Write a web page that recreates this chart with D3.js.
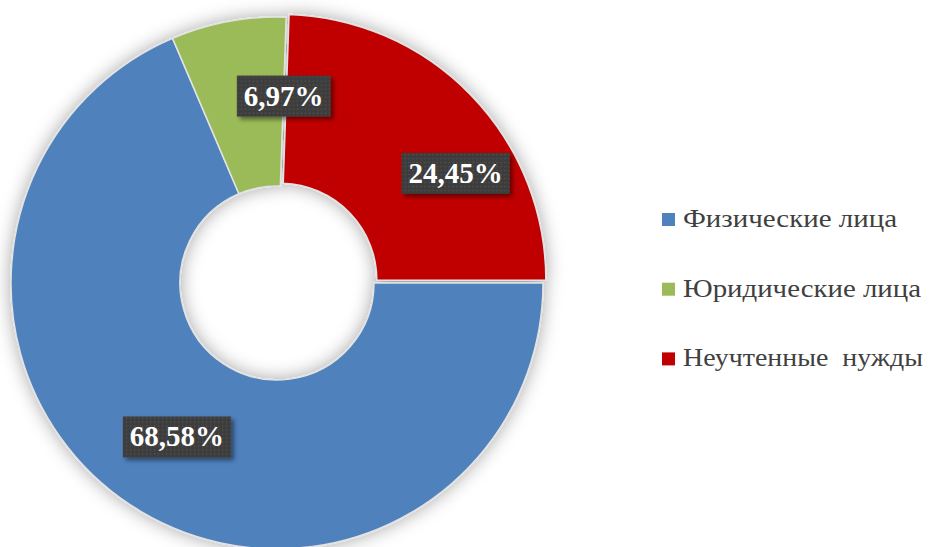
<!DOCTYPE html>
<html>
<head>
<meta charset="utf-8">
<script src="https://cdn.jsdelivr.net/npm/d3@7"></script>
<style>
  body { margin: 0; background: #fff; }
  #chart-area { width: 932px; height: 547px; }
</style>
</head>
<body>
<div id="chart-area"></div>
<script>
var categories = ["Физические лица", "Юридические лица", "Неучтенные  нужды"];
var values = [68.58, 6.97, 24.45];
var labels = ["68,58%", "6,97%", "24,45%"];
var colors = ["#4F81BD", "#9BBB59", "#C00000"];

var width = 932, height = 547;
var cx = 277, cy = 283;
var outerR = 266, innerR = 97;

// per-slice label nudges and explode (layout, not data)
var nudge = [[0, 2], [40, -9], [48, 16]];
var explode = [0, 0, 4];
// legend text is drawn a bit wide in the original
var legendWidths = [214, 238, 240];

var svg = d3.select("#chart-area").append("svg")
    .attr("width", width)
    .attr("height", height)
    .attr("viewBox", "0 0 " + width + " " + height);

var defs = svg.append("defs");

var shadow = defs.append("filter")
    .attr("id", "donut-shadow")
    .attr("x", "-20%").attr("y", "-20%")
    .attr("width", "140%").attr("height", "140%");
shadow.append("feGaussianBlur").attr("in", "SourceAlpha").attr("stdDeviation", 9).attr("result", "blur");
shadow.append("feFlood").attr("flood-color", "#000").attr("flood-opacity", 0.35).attr("result", "col");
shadow.append("feComposite").attr("in", "col").attr("in2", "blur").attr("operator", "in").attr("result", "sh");
var m1 = shadow.append("feMerge");
m1.append("feMergeNode").attr("in", "sh");
m1.append("feMergeNode").attr("in", "SourceGraphic");

var boxShadow = defs.append("filter")
    .attr("id", "box-shadow")
    .attr("x", "-20%").attr("y", "-30%")
    .attr("width", "150%").attr("height", "180%");
boxShadow.append("feGaussianBlur").attr("in", "SourceAlpha").attr("stdDeviation", 2).attr("result", "blur");
boxShadow.append("feOffset").attr("in", "blur").attr("dx", 3).attr("dy", 3).attr("result", "off");
boxShadow.append("feFlood").attr("flood-color", "#000").attr("flood-opacity", 0.45).attr("result", "col");
boxShadow.append("feComposite").attr("in", "col").attr("in2", "off").attr("operator", "in").attr("result", "sh");
var m2 = boxShadow.append("feMerge");
m2.append("feMergeNode").attr("in", "sh");
m2.append("feMergeNode").attr("in", "SourceGraphic");

var dots = defs.append("pattern")
    .attr("id", "dots")
    .attr("width", 4).attr("height", 4)
    .attr("patternUnits", "userSpaceOnUse");
dots.append("rect").attr("width", 4).attr("height", 4).attr("fill", "#3d3d3d");
dots.append("rect").attr("x", 1).attr("y", 1).attr("width", 1.2).attr("height", 1.2).attr("fill", "#575757");

var pie = d3.pie()
    .sort(null)
    .startAngle(Math.PI / 2)
    .endAngle(Math.PI / 2 + 2 * Math.PI)
    .value(d => d);

var arc = d3.arc()
    .innerRadius(innerR)
    .outerRadius(outerR);

var arcs = pie(values);

var g = svg.append("g")
    .attr("transform", "translate(" + cx + "," + cy + ")");

var donut = g.append("g").attr("filter", "url(#donut-shadow)");

donut.selectAll("path")
    .data(arcs)
    .enter().append("path")
    .attr("d", arc)
    .attr("fill", (d, i) => colors[i])
    .attr("stroke", "#e2e2e2")
    .attr("stroke-width", 1.5)
    .attr("transform", function(d, i) {
        var a = (d.startAngle + d.endAngle) / 2;
        return "translate(" + (Math.sin(a) * explode[i]) + "," + (-Math.cos(a) * explode[i]) + ")";
    });

var lab = g.selectAll(".lab")
    .data(arcs)
    .enter().append("g")
    .attr("class", "lab")
    .attr("transform", function(d, i) {
        var c = arc.centroid(d);
        return "translate(" + (c[0] + nudge[i][0]) + "," + (c[1] + nudge[i][1]) + ")";
    });

lab.each(function(d, i) {
    var el = d3.select(this);
    var box = el.append("rect").attr("fill", "url(#dots)").attr("filter", "url(#box-shadow)");
    var t = el.append("text")
        .attr("text-anchor", "middle")
        .attr("y", 10)
        .attr("font-family", "'Liberation Serif', 'Times New Roman', serif")
        .attr("font-weight", "bold")
        .attr("font-size", "29px")
        .attr("fill", "#fff")
        .text(labels[i]);
    var w = t.node().getComputedTextLength();
    box.attr("x", -w / 2 - 7).attr("y", -20)
        .attr("width", w + 14).attr("height", 41);
});

var legend = svg.append("g")
    .attr("class", "legend")
    .attr("transform", "translate(662,213)");

categories.forEach(function(name, i) {
    var row = legend.append("g")
        .attr("transform", "translate(0," + (i * 69.7) + ")");
    row.append("rect")
        .attr("width", 13)
        .attr("height", 13)
        .attr("fill", colors[i]);
    row.append("text")
        .attr("x", 21)
        .attr("y", 14)
        .attr("font-family", "'Liberation Serif', 'Times New Roman', serif")
        .attr("font-size", "25px")
        .attr("textLength", legendWidths[i])
        .attr("lengthAdjust", "spacingAndGlyphs")
        .style("white-space", "pre")
        .attr("fill", "#404040")
        .text(name);
});
</script>
</body>
</html>
